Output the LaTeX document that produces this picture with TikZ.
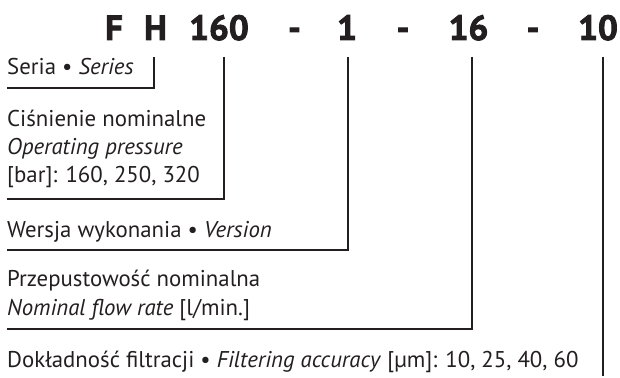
\documentclass[tikz,border=0pt]{standalone}
\usepackage{fontspec}
\setmainfont{PT Sans}
\newfontfamily\codefont{PT Sans Bold}[FakeBold=2.5]
\definecolor{ink}{HTML}{231F20}
\begin{document}
\begin{tikzpicture}[x=1pt,y=-1pt,
  lbl/.style={anchor=base west,inner sep=0pt,font=\fontsize{22.8}{28}\selectfont,text=ink},
  code/.style={anchor=base,inner sep=0pt,font=\fontsize{35}{40}\codefont,text=ink},
  lead/.style={draw=ink,line width=1.3pt}]
\useasboundingbox (0,0) rectangle (620,377);
% code
\node[code] (cF)   at (114,40)   {F};
\node[code] (cH)   at (155.5,40) {H};
\node[code] (c160) at (219,40)   {160};
\node[code] (h1)   at (294.5,40) {-};
\node[code] (c1)   at (347,40)   {1};
\node[code] (h2)   at (403,40)   {-};
\node[code] (c16)  at (468.5,40) {16};
\node[code] (h3)   at (533,40)   {-};
\node[code] (c10)  at (598,40)   {10};
% labels
\node[lbl] (l1)  at (7,75)  {Seria • \textit{Series}};
\node[lbl] (l2a) at (7,126) {Ciśnienie nominalne};
\node[lbl] (l2b) at (7,154) {\textit{Operating pressure}};
\node[lbl] (l2c) at (7,182) {[bar]: 160, 250, 320};
\node[lbl] (l3)  at (7,237) {Wersja wykonania • \textit{Version}};
\node[lbl] (l4a) at (7,286) {Przepustowość nominalna};
\node[lbl] (l4b) at (7,315) {\textit{Nominal flow rate} [l/min.]};
\node[lbl] (l5)  at (7,367) {Dokładność filtracji • \textit{Filtering accuracy} [µm]: 10, 25, 40, 60};
% leader coordinates
\coordinate (s1) at (154,57);  \coordinate (e1) at (7,88);
\coordinate (s2) at (224,57);  \coordinate (e2) at (7,199);
\coordinate (s3) at (348,57);  \coordinate (e3) at (7,250);
\coordinate (s4) at (472,57);  \coordinate (e4) at (7,329);
\coordinate (s5) at (603,57);  \coordinate (e5) at (603,376);
\draw[lead] (s1) |- (e1);
\draw[lead] (s2) |- (e2);
\draw[lead] (s3) |- (e3);
\draw[lead] (s4) |- (e4);
\draw[lead] (s5) -- (e5);
\end{tikzpicture}
\end{document}
